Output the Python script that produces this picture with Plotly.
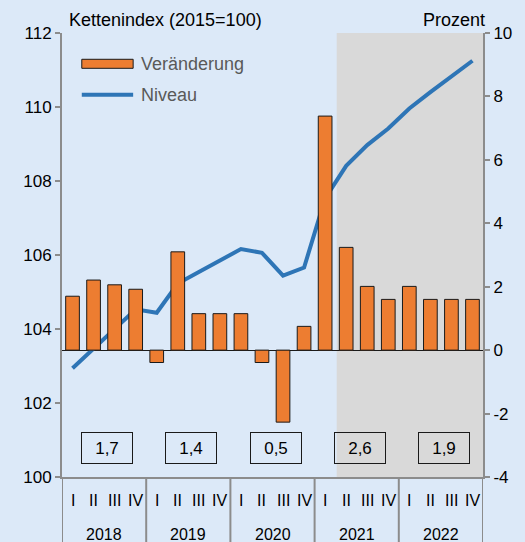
import plotly.graph_objects as go

# --- data ---
years = ["2018", "2019", "2020", "2021", "2022"]
quarters = ["I", "II", "III", "IV"]
change = [1.70, 2.21, 2.06, 1.92,
          -0.39, 3.10, 1.15, 1.15,
          1.15, -0.39, -2.27, 0.75,
          7.38, 3.24, 2.01, 1.60,
          2.01, 1.60, 1.60, 1.60]
level = [102.94, 103.47, 104.00, 104.53,
         104.44, 105.23, 105.54, 105.85,
         106.16, 106.06, 105.44, 105.66,
         107.53, 108.41, 108.97, 109.42,
         109.96, 110.40, 110.82, 111.25]
annual = ["1,7", "1,4", "0,5", "2,6", "1,9"]
pct_ticks = [-4, -2, 0, 2, 4, 6, 8, 10]
pct_labels = ["-4", "-2", "0", "2", "4", "6", "8", "10"]
forecast_start = 12.55  # shading begins just after 2021 Q1

BG = "#dce9f8"
SHADE = "#d9d9d9"
ORANGE = "#ed7d31"
BLUE = "#2e75b6"
AXIS = "#8c8c8c"
FONT = "Liberation Sans, Arial, sans-serif"

n = len(change)
xs = list(range(n))

fig = go.Figure()

fig.add_trace(go.Bar(
    x=xs, y=change, yaxis="y2", width=0.65,
    marker=dict(color=ORANGE, line=dict(color="#1a1a1a", width=1)),
    showlegend=False, hoverinfo="skip",
))
fig.add_trace(go.Scatter(
    x=xs, y=level, mode="lines", yaxis="y",
    line=dict(color=BLUE, width=4),
    showlegend=False, hoverinfo="skip",
))

shapes = [
    dict(type="rect", xref="x", yref="paper", x0=forecast_start, x1=n - 0.5,
         y0=0, y1=1, fillcolor=SHADE, line=dict(width=0), layer="below"),
]
# year dividers below the axis
for k in range(len(years) + 1):
    shapes.append(dict(type="line", xref="x", yref="paper",
                       x0=k * 4 - 0.5, x1=k * 4 - 0.5, y0=0, y1=-0.2,
                       line=dict(color=AXIS, width=2)))

# manual legend
shapes.append(dict(type="rect", xref="paper", yref="paper",
                   x0=0.047, x1=0.169, y0=0.9205, y1=0.9408,
                   fillcolor=ORANGE, line=dict(color="#1a1a1a", width=1)))
shapes.append(dict(type="line", xref="paper", yref="paper",
                   x0=0.047, x1=0.169, y0=0.861, y1=0.861,
                   line=dict(color=BLUE, width=4)))

annotations = [
    dict(text="Veränderung", xref="paper", yref="paper", x=0.183, y=0.931,
         xanchor="left", yanchor="middle", showarrow=False,
         font=dict(size=18, color="#595959", family=FONT)),
    dict(text="Niveau", xref="paper", yref="paper", x=0.183, y=0.861,
         xanchor="left", yanchor="middle", showarrow=False,
         font=dict(size=18, color="#595959", family=FONT)),
    dict(text="Kettenindex (2015=100)", xref="paper", yref="paper", x=0.012, y=1.029,
         xanchor="left", yanchor="middle", showarrow=False,
         font=dict(size=18, color="#000000", family=FONT)),
    dict(text="Prozent", xref="paper", yref="paper", x=1.0095, y=1.029,
         xanchor="right", yanchor="middle", showarrow=False,
         font=dict(size=18, color="#000000", family=FONT)),
]
for i in xs:
    annotations.append(dict(text=quarters[i % 4], xref="x", yref="paper", x=i, y=-0.054,
                            xanchor="center", yanchor="middle", showarrow=False,
                            font=dict(size=16, color="#000000", family=FONT)))
for k, yr in enumerate(years):
    annotations.append(dict(text=yr, xref="x", yref="paper", x=k * 4 + 1.5, y=-0.129,
                            xanchor="center", yanchor="middle", showarrow=False,
                            font=dict(size=16, color="#000000", family=FONT)))
    annotations.append(dict(text=annual[k], xref="x", yref="paper", x=k * 4 + 1.5, y=0.065,
                            xanchor="center", yanchor="middle", showarrow=False, xshift=3,
                            width=44, height=24, borderpad=3,
                            bordercolor="#1a1a1a", borderwidth=1,
                            font=dict(size=17, color="#000000", family=FONT)))

fig.update_layout(
    width=525, height=542,
    paper_bgcolor=BG, plot_bgcolor=BG,
    margin=dict(l=62, r=42, t=33, b=65),
    font=dict(family=FONT, color="#000000"),
    bargap=0.35,
    hovermode=False,
    xaxis=dict(range=[-0.5, n - 0.5], showticklabels=False, ticks="",
               showgrid=False, zeroline=False, showline=True,
               linecolor=AXIS, linewidth=2),
    yaxis=dict(range=[100, 112], dtick=2, ticks="outside", ticklen=5,
               tickcolor=AXIS, tickwidth=2, showgrid=False, zeroline=False,
               showline=True, linecolor=AXIS, linewidth=2,
               tickfont=dict(size=17)),
    yaxis2=dict(range=[-4, 10], tickmode="array", tickvals=pct_ticks, ticktext=pct_labels,
                overlaying="y", side="right",
                ticks="outside", ticklen=5, tickcolor=AXIS, tickwidth=2,
                showgrid=False, zeroline=True, zerolinecolor="#1a1a1a",
                zerolinewidth=1, showline=True, linecolor=AXIS, linewidth=2,
                tickfont=dict(size=17)),
    shapes=shapes,
    annotations=annotations,
    showlegend=False,
)

fig.write_html("out.html",
               config={"displayModeBar": False},
               post_script="document.body.style.margin='0';"
                           "document.body.style.overflow='hidden';")
